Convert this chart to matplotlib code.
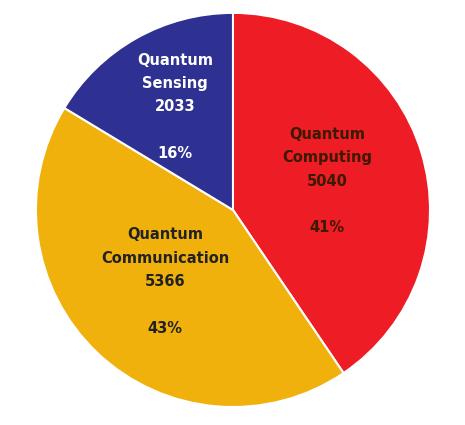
import matplotlib.pyplot as plt
import numpy as np

names = ["Quantum\nComputing", "Quantum\nCommunication", "Quantum\nSensing"]
values = [5040, 5366, 2033]
percents = ["41%", "43%", "16%"]
colors = ["#ee1c25", "#f0b10c", "#2e3192"]
text_colors = ["#3a1a00", "#222222", "white"]
dists = [0.5, 0.5, 0.6]

fig = plt.figure(figsize=(4.65, 4.25), dpi=100)
ax = fig.add_axes([0.501 - 0.426, 0.506 - 0.466, 0.852, 0.932])
wedges, _ = ax.pie(values, colors=colors, startangle=90, counterclock=False,
                   wedgeprops=dict(edgecolor="white", linewidth=1.5))
ax.set_aspect("equal")
ax.set_xlim(-1.005, 1.005)
ax.set_ylim(-1.005, 1.005)
for w, n, v, p, tc, d in zip(wedges, names, values, percents, text_colors, dists):
    ang = np.deg2rad((w.theta1 + w.theta2) / 2)
    x, y = d * np.cos(ang), d * np.sin(ang)
    ax.text(x, y, f"{n}\n{v}\n\n{p}", ha="center", va="center", color=tc,
            fontsize=10.5, fontweight="bold", linespacing=1.7)
fig.savefig("out.png")
